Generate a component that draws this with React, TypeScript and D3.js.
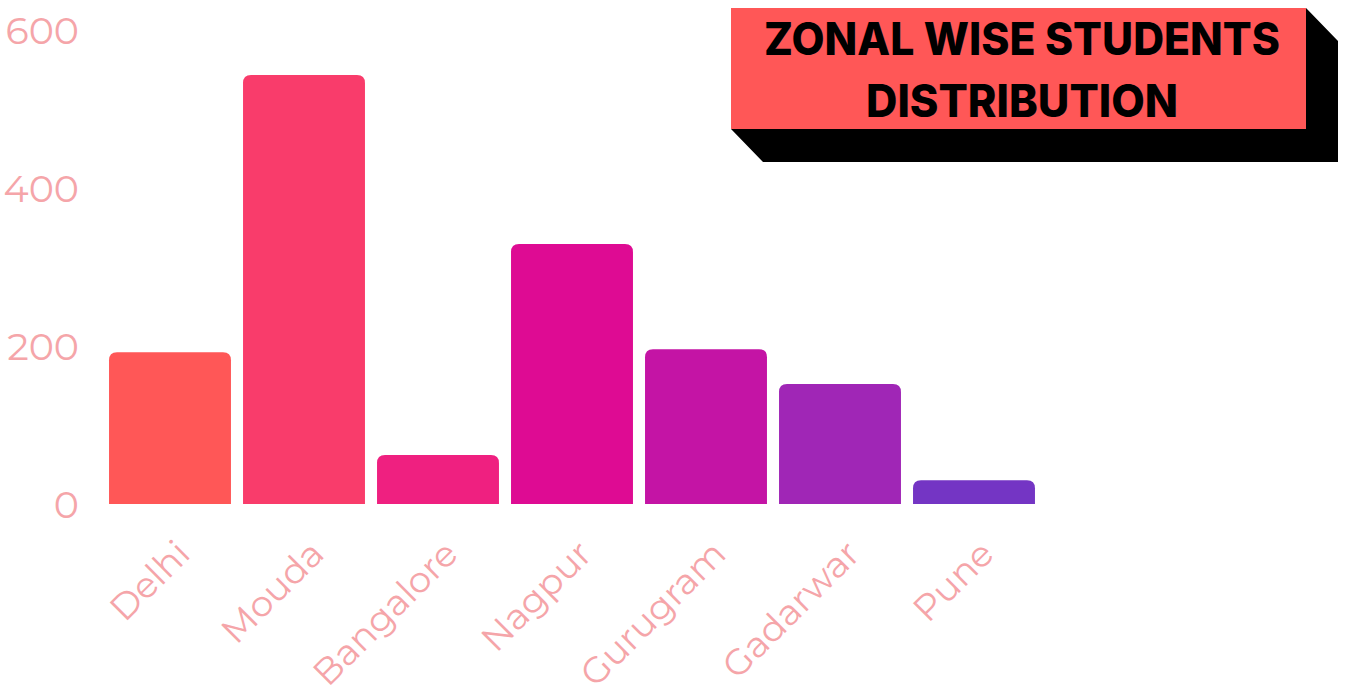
import React, { useEffect, useRef } from 'react';
import * as d3 from 'd3';

// chart values
const zones = ['Delhi', 'Mouda', 'Bangalore', 'Nagpur', 'Gurugram', 'Gadarwar', 'Pune'];
const students = [192, 543, 62, 329, 196, 152, 30];
const barColors = ['#FF5757', '#F93C6B', '#EF2080', '#DE0B93', '#C414A5', '#A026B6', '#7435C4'];
const yTicks = [0, 200, 400, 600];
const titleLines = ['ZONAL WISE STUDENTS', 'DISTRIBUTION'];

const W = 1347;
const H = 689;
const labelColor = '#F5A5A9';
const labelFont = "Montserrat, 'Open Sans', sans-serif";

const App = () => {
  const svgRef = useRef<SVGSVGElement>(null);

  useEffect(() => {
    const svg = d3.select(svgRef.current);
    svg.selectAll('*').remove();

    const x = d3.scaleBand<string>()
      .domain(zones)
      .range([103, 1041])
      .paddingInner(0.09)
      .paddingOuter(0.045);

    const y = d3.scaleLinear().domain([0, 600]).range([504, 30]);

    // bars with rounded top corners only
    const r = 8;
    const barPath = (x0: number, w: number, top: number, bottom: number) => {
      const rr = Math.min(r, (bottom - top));
      return `M${x0},${bottom}V${top + rr}Q${x0},${top} ${x0 + rr},${top}H${x0 + w - rr}Q${x0 + w},${top} ${x0 + w},${top + rr}V${bottom}Z`;
    };

    svg.append('g')
      .selectAll('path')
      .data(zones)
      .join('path')
      .attr('d', (d, i) => barPath(x(d)!, x.bandwidth(), y(students[i]), y(0)))
      .attr('fill', (d, i) => barColors[i]);

    // y axis labels
    svg.append('g')
      .selectAll('text')
      .data(yTicks)
      .join('text')
      .attr('x', 79)
      .attr('y', d => y(d))
      .attr('dy', '0.36em')
      .attr('text-anchor', 'end')
      .attr('fill', labelColor)
      .attr('font-family', labelFont)
      .attr('font-size', 38)
      .text(d => d);

    // x axis labels, rotated
    svg.append('g')
      .selectAll('text')
      .data(zones)
      .join('text')
      .attr('transform', d => `translate(${x(d)! + x.bandwidth() / 2 + 22},${y(0) + 52}) rotate(-45)`)
      .attr('text-anchor', 'end')
      .attr('fill', labelColor)
      .attr('font-family', labelFont)
      .attr('font-size', 36)
      .text(d => d);

    // 3D title block
    const tx0 = 731, ty0 = 8, tx1 = 1306, ty1 = 129, dx = 32, dy = 33;
    const title = svg.append('g');
    title.append('path')
      .attr('d', `M${tx0},${ty1}L${tx0 + dx},${ty1 + dy}H${tx1 + dx}V${ty0 + dy}L${tx1},${ty0}V${ty1}Z`)
      .attr('fill', '#000');
    title.append('rect')
      .attr('x', tx0).attr('y', ty0)
      .attr('width', tx1 - tx0).attr('height', ty1 - ty0)
      .attr('fill', '#FF5757');
    title.selectAll('text')
      .data(titleLines)
      .join('text')
      .attr('x', 1022)
      .attr('y', (d, i) => 55 + i * 62)
      .attr('text-anchor', 'middle')
      .attr('font-family', "Inter, 'Liberation Sans', Arial, sans-serif")
      .attr('font-weight', 800)
      .attr('font-size', 45)
      .attr('fill', '#000')
      .attr('textLength', (d, i) => (i === 0 ? 516 : 312))
      .attr('lengthAdjust', 'spacingAndGlyphs')
      .text(d => d);
  }, []);

  return (
    <svg
      ref={svgRef}
      width={W}
      height={H}
      style={{ position: 'absolute', left: 0, top: 0, background: '#fff' }}
    />
  );
};

export default App;
